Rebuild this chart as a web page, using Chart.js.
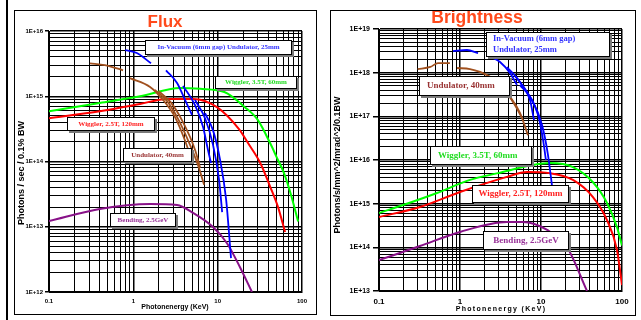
<!DOCTYPE html>
<html>
<head>
<meta charset="utf-8">
<script src="https://cdn.jsdelivr.net/npm/chart.js@4.4.1/dist/chart.umd.min.js"></script>
<style>
  body { margin: 0; background: #fff; }
  #page { position: relative; width: 641px; height: 320px; overflow: hidden; background: #fff; }
  .edge { position: absolute; left: 6px; top: 0; width: 2px; height: 320px; background: #000; }
  .panel { position: absolute; border: 1px solid #000; }
  #fluxPanel { left: 14px; top: 10px; width: 301px; height: 303px; }
  #brightPanel { left: 330px; top: 10px; width: 304px; height: 304px; }
  canvas { position: absolute; left: 0; top: 0; }
</style>
</head>
<body>
<div id="page">
  <div class="edge"></div>
  <div class="panel" id="fluxPanel"><canvas id="fluxChart" width="301" height="303"></canvas></div>
  <div class="panel" id="brightPanel"><canvas id="brightChart" width="304" height="304"></canvas></div>
</div>
<script>
// tick labels
const energyTicks = ["0.1", "1", "10", "100"];
const fluxTicks = ["1E+12", "1E+13", "1E+14", "1E+15", "1E+16"];
const brightTicks = ["1E+13", "1E+14", "1E+15", "1E+16", "1E+17", "1E+18", "1E+19"];

// Flux curves: [energy keV, photons/s/0.1%BW]
const fluxInVacuum = [
  [[0.80, 5.1e15], [1.1, 4.6e15], [1.62, 3.2e15]],
  [[2.44, 2.5e15], [3.3, 1.6e15], [4.1, 8.8e14], [4.96, 5.2e14]],
  [[3.88, 1.44e15], [5.39, 7.3e14], [6.7, 3.4e14], [7.68, 1.5e14], [8.34, 9.5e13]],
  [[5.39, 8.8e14], [7.08, 4.6e14], [8.81, 1.8e14], [10.4, 5.2e13], [11.3, 1.68e13]],
  [[7.08, 5.5e14], [8.81, 3.0e14], [10.7, 1.05e14], [12.6, 2.6e13], [14.4, 3.3e12]]
];
const fluxUndulator40 = [
  [[0.306, 3.2e15], [0.46, 3.0e15], [0.755, 2.5e15]],
  [[0.91, 1.9e15], [1.58, 1.39e15], [2.25, 8.8e14], [3.12, 4.8e14], [4.1, 2.1e14], [4.7, 1.26e14]],
  [[1.8, 1.25e15], [2.5, 8.5e14], [3.39, 4.5e14], [4.7, 1.8e14], [5.85, 8.8e13], [6.9, 4.4e13]],
  [[2.0, 1.2e15], [2.8, 8.0e14], [3.88, 4.0e14], [5.4, 1.5e14], [6.2, 8.0e13]]
];
const fluxWiggler35 = [[0.1, 5.9e14], [0.4, 7.9e14], [1.2, 1.0e15], [3.6, 1.34e15], [6.2, 1.3e15], [12, 1.16e15], [21, 6.8e14], [30, 4.3e14], [42, 1.9e14], [50, 1.17e14], [61, 6.7e13], [74, 3.1e13], [90, 1.2e13]];
const fluxWiggler25 = [[0.1, 4.6e14], [0.4, 5.9e14], [1.2, 7.6e14], [2.5, 9.1e14], [5.1, 9.1e14], [9.8, 6.8e14], [18, 3.1e14], [23, 1.9e14], [32, 9.5e13], [42, 4.1e13], [52, 2.0e13], [63, 8.3e12]];
const fluxBending = [[0.1, 1.22e13], [0.4, 1.87e13], [1.58, 2.23e13], [3.3, 2.15e13], [5.1, 1.63e13], [8.8, 9.9e12], [12.9, 5.6e12], [18.4, 2.4e12], [25.5, 1.0e12]];

// Brightness curves: [energy keV, photons/s/mm^2/mrad^2/0.1BW]
const brightInVacuum = [
  [[0.82, 3.1e18], [1.22, 3.3e18], [1.67, 2.8e18]],
  [[2.41, 2.3e18], [3.12, 1.75e18], [4.14, 9.8e17], [5.05, 5.2e17]],
  [[3.8, 1.35e18], [5.5, 6.1e17], [7.3, 2.4e17], [8.2, 8.2e16]],
  [[4.78, 8.4e17], [6.7, 3.6e17], [9.2, 1.07e17], [10.6, 2.9e16], [11.5, 1.0e16]],
  [[5.5, 5.2e17], [7.74, 2.4e17], [10.3, 6.3e16], [12.2, 1.3e16], [13.7, 2.5e15]]
];
const brightUndulator40 = [
  [[0.30, 1.21e18], [0.43, 1.35e18], [0.535, 1.66e18], [0.75, 1.66e18]],
  [[0.92, 1.28e18], [1.33, 1.21e18], [1.77, 1.04e18], [2.15, 8.8e17], [2.95, 6.1e17], [4.14, 2.8e17], [5.5, 1.2e17], [6.9, 3.7e16]],
  [[3.59, 4.0e17], [4.78, 1.8e17], [5.82, 9.2e16]]
];
const brightWiggler35 = [[0.1, 6.1e14], [0.198, 9.3e14], [0.52, 1.76e15], [1.33, 3.5e15], [2.95, 5.0e15], [7.96, 7.7e15], [12.9, 8.5e15], [24.8, 6.9e15], [43.8, 3.1e15], [65.3, 1.04e15], [86.7, 2.9e14], [100, 1.1e14]];
const brightWiggler25 = [[0.1, 4.95e14], [0.32, 8.4e14], [1.0, 1.85e15], [3.8, 4.1e15], [6.7, 5.3e15], [12.9, 5.0e15], [24.8, 3.5e15], [43.8, 1.42e15], [65.3, 4.2e14], [86.7, 8.7e13], [100, 1.37e13]];
const brightBending = [[0.1, 5.1e13], [0.32, 1.07e14], [1.0, 2.25e14], [3.8, 3.8e14], [6.0, 3.8e14], [11.9, 2.5e14], [20.9, 1.02e14], [37, 1.0e13]];

const BLUE = "#0000ff", BROWN = "#a0501e", GREEN = "#00ff00", RED = "#ff0000", PURPLE = "#881188";
const SANS = "'Liberation Sans', Arial, sans-serif";
const SERIF = "'Liberation Serif', 'Times New Roman', serif";

function line(points, color, width) {
  return {
    data: points.map(p => ({ x: p[0], y: p[1] })),
    borderColor: color,
    borderWidth: width,
    pointRadius: 0,
    fill: false,
    cubicInterpolationMode: "monotone"
  };
}

// 1..9 x 10^n ticks for every decade
function decadeTicks(min, max) {
  const out = [];
  const e0 = Math.round(Math.log10(min)), e1 = Math.round(Math.log10(max));
  for (let e = e0; e < e1; e++) {
    for (let m = 1; m < 10; m++) out.push({ value: m * Math.pow(10, e), major: m === 1 });
  }
  out.push({ value: max, major: true });
  return out;
}

function logAxis(min, max, labels, o) {
  const minExp = Math.round(Math.log10(min));
  return {
    type: "logarithmic",
    position: o.position,
    min: min,
    max: max,
    afterBuildTicks: s => { s.ticks = decadeTicks(min, max); },
    afterFit: s => {
      if (o.width != null) s.width = o.width;
      if (o.height != null) s.height = o.height;
    },
    ticks: {
      autoSkip: false,
      maxRotation: 0,
      padding: o.pad,
      color: "#000",
      font: { family: SANS, size: o.fontSize, weight: "bold" },
      callback: (v, i, t) => t[i].major ? labels[Math.round(Math.log10(t[i].value)) - minExp] : ""
    },
    grid: {
      color: "#000",
      lineWidth: c => (c.tick && c.tick.major ? 1.5 : 1),
      tickLength: o.tick,
      tickColor: c => (o.showTick && c.tick && c.tick.major ? "#000" : "rgba(0,0,0,0)")
    },
    border: { color: "#000", width: 1 }
  };
}

const decor = {
  id: "decor",
  afterDatasetsDraw(chart, args, opts) {
    const ctx = chart.ctx;
    ctx.save();
    opts.boxes.forEach(b => {
      ctx.fillStyle = "#7a7a7a";
      ctx.fillRect(b.x + 2, b.y + 2, b.w, b.h);
      ctx.fillStyle = "#fff";
      ctx.fillRect(b.x, b.y, b.w, b.h);
      ctx.strokeStyle = "#000";
      ctx.lineWidth = 1;
      ctx.strokeRect(b.x + 0.5, b.y + 0.5, b.w - 1, b.h - 1);
      ctx.fillStyle = b.color;
      ctx.font = "bold " + b.size + "px " + SERIF;
      ctx.textBaseline = "middle";
      ctx.textAlign = b.tx != null ? "left" : "center";
      const tx = b.tx != null ? b.tx : b.x + b.w / 2;
      const lh = b.size * 1.25;
      const ty0 = b.ty != null ? b.ty : b.y + b.h / 2 - (b.lines.length - 1) * lh / 2;
      b.lines.forEach((t, i) => ctx.fillText(t, tx, ty0 + i * lh));
    });
    ctx.restore();
  },
  afterDraw(chart, args, opts) {
    const ctx = chart.ctx;
    ctx.save();
    ctx.textAlign = "center";
    // chart title
    ctx.fillStyle = "#ff4a1c";
    ctx.font = "bold " + opts.title.size + "px " + SANS;
    ctx.textBaseline = "alphabetic";
    ctx.fillText(opts.title.text, opts.title.x, opts.title.y);
    // axis titles
    ctx.fillStyle = "#000";
    ctx.textBaseline = "middle";
    ctx.font = "bold " + opts.xTitle.size + "px " + SANS;
    ctx.letterSpacing = (opts.xTitle.spacing || 0) + "px";
    ctx.fillText(opts.xTitle.text, opts.xTitle.x, opts.xTitle.y);
    ctx.letterSpacing = "0px";
    ctx.translate(opts.yTitle.x, opts.yTitle.y);
    ctx.rotate(-Math.PI / 2);
    ctx.font = "bold " + opts.yTitle.size + "px " + SANS;
    ctx.fillText(opts.yTitle.text, 0, 0);
    ctx.restore();
  }
};

function makeChart(id, datasets, xAxis, yAxis, padding, deco) {
  return new Chart(document.getElementById(id), {
    type: "line",
    data: { datasets: datasets },
    options: {
      responsive: false,
      animation: false,
      devicePixelRatio: 1,
      layout: { padding: padding },
      scales: { x: xAxis, y: yAxis },
      plugins: { legend: { display: false }, tooltip: { enabled: false }, decor: deco }
    },
    plugins: [decor]
  });
}

makeChart("fluxChart",
  [].concat(
    fluxInVacuum.map(s => line(s, BLUE, 1.8)),
    fluxUndulator40.map(s => line(s, BROWN, 1.8)),
    [line(fluxWiggler35, GREEN, 2), line(fluxWiggler25, RED, 2), line(fluxBending, PURPLE, 2)]
  ),
  logAxis(0.1, 100, energyTicks, { position: "bottom", height: 22, tick: 4, pad: 2, fontSize: 6, showTick: false }),
  logAxis(1e12, 1e16, fluxTicks, { position: "left", width: 34, tick: 4, pad: 2, fontSize: 6, showTick: true }),
  { top: 20, right: 14, left: 0, bottom: 0 },
  {
    title: { text: "Flux", x: 150, y: 16, size: 17 },
    xTitle: { text: "Photonenergy (KeV)", x: 160, y: 296, size: 7 },
    yTitle: { text: "Photons / sec / 0.1% BW", x: 7, y: 162, size: 9 },
    boxes: [
      { lines: ["In-Vacuum (6mm gap) Undulator, 25mm"], color: "#3333ff", x: 130, y: 29, w: 147, h: 15, size: 7 },
      { lines: ["Wiggler, 3.5T, 60mm"], color: "#22dd22", x: 200, y: 65, w: 82, h: 13, size: 7 },
      { lines: ["Wiggler, 2.5T, 120mm"], color: "#ff2020", x: 52, y: 106, w: 88, h: 14, size: 7 },
      { lines: ["Undulator, 40mm"], color: "#993333", x: 108, y: 137, w: 69, h: 14, size: 7 },
      { lines: ["Bending, 2.5GeV"], color: "#993399", x: 95, y: 202, w: 66, h: 14, size: 7 }
    ]
  }
);

makeChart("brightChart",
  [].concat(
    brightInVacuum.map(s => line(s, BLUE, 1.8)),
    brightUndulator40.map(s => line(s, BROWN, 1.8)),
    [line(brightWiggler35, GREEN, 2), line(brightWiggler25, RED, 2), line(brightBending, PURPLE, 2)]
  ),
  logAxis(0.1, 100, energyTicks, { position: "bottom", height: 24, tick: 4, pad: 2, fontSize: 8, showTick: false }),
  logAxis(1e13, 1e19, brightTicks, { position: "left", width: 48, tick: 6, pad: 3, fontSize: 7, showTick: true }),
  { top: 18, right: 13, left: 0, bottom: 0 },
  {
    title: { text: "Brightness", x: 146, y: 12, size: 17.5 },
    xTitle: { text: "Photonenergy (KeV)", x: 170, y: 298, size: 7, spacing: 1.3 },
    yTitle: { text: "Photons/s/mm^2/mrad^2/0.1BW", x: 7, y: 154, size: 9 },
    boxes: [
      { lines: ["In-Vacuum (6mm gap)", "Undulator, 25mm"], color: "#3333ff", x: 155, y: 21, w: 124, h: 25, size: 8.5, tx: 162 },
      { lines: ["Undulator, 40mm"], color: "#993333", x: 88, y: 65, w: 91, h: 20, size: 9, tx: 96 },
      { lines: ["Wiggler, 3.5T, 60mm"], color: "#22dd22", x: 99, y: 135, w: 102, h: 19, size: 9, tx: 107 },
      { lines: ["Wiggler, 2.5T, 120mm"], color: "#ff2020", x: 141, y: 174, w: 97, h: 18, size: 9 },
      { lines: ["Bending, 2.5GeV"], color: "#993399", x: 152, y: 220, w: 86, h: 19, size: 9 }
    ]
  }
);
</script>
</body>
</html>
